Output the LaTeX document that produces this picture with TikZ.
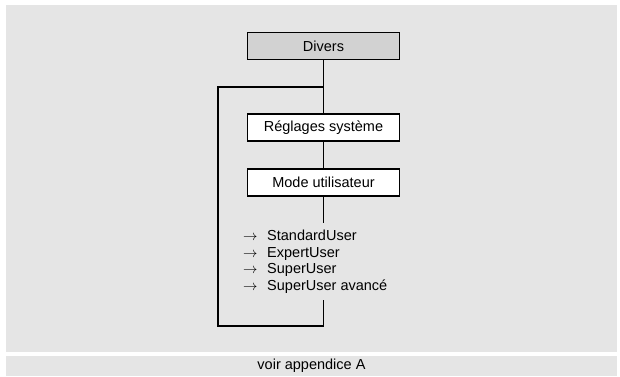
\documentclass[tikz,border=0pt]{standalone}
\usepackage{fontspec}
\setmainfont{Liberation Sans}
\usetikzlibrary{positioning}

\begin{document}
\begin{tikzpicture}[x=1pt, y=-1pt,
	every node/.style={font=\fontsize{14.5}{16.6}\selectfont},
	boite/.style={draw, line width=1.9pt, fill=white, minimum width=152pt, minimum height=27pt, inner sep=0pt},
	trait/.style={line width=1.9pt}]
	\useasboundingbox (0,0) rectangle (620,376);
	\fill[gray!20] (6,5) rectangle (617,352);
	
\node[boite, fill=gray!35] (divers) at (323.5,46) {Divers};
\node[boite] (reglages) at (323.5,127.5) {Réglages système};
\node[boite] (mode) at (323.5,182.5) {Mode utilisateur};
\node[anchor=north west, inner sep=0pt, align=left] (liste) at (243,230) {%
	\makebox[24pt][l]{$\rightarrow$}StandardUser\\
	\makebox[24pt][l]{$\rightarrow$}ExpertUser\\
	\makebox[24pt][l]{$\rightarrow$}SuperUser\\
	\makebox[24pt][l]{$\rightarrow$}SuperUser avancé};
\node[fill=gray!20, minimum width=611pt, minimum height=20pt, inner sep=0pt] (renvoi) at (311.5,366) {voir appendice A};

	\coordinate (branche) at (323.5,87);
	\coordinate (listehaut) at (323.5,223);
	\coordinate (listebas) at (323.5,300);
	\coordinate (gauche) at (218,326);
	
\draw[trait] (divers) -- (reglages);
\draw[trait] (reglages) -- (mode);
\draw[trait] (mode) -- (listehaut);
\draw[trait] (listebas) |- (gauche) |- (branche);

\end{tikzpicture}
\end{document}
